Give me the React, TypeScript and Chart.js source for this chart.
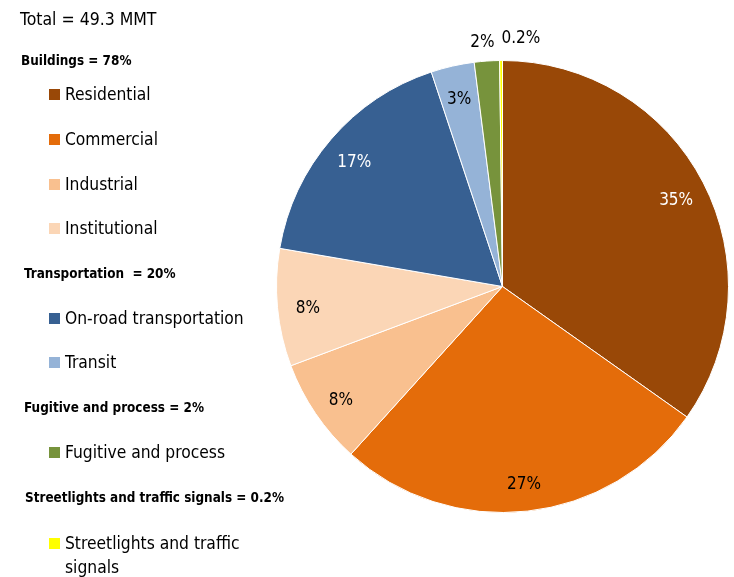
import React, { useEffect, useRef } from "react";
import { Chart, registerables } from "chart.js";

Chart.register(...registerables);

const categories = [
  "Residential",
  "Commercial",
  "Industrial",
  "Institutional",
  "On-road transportation",
  "Transit",
  "Fugitive and process",
  "Streetlights and traffic signals",
];
const shares = [34.8, 26.9, 7.6, 8.4, 17.2, 3.1, 1.8, 0.2];
const shareLabels = ["35%", "27%", "8%", "8%", "17%", "3%", "2%", "0.2%"];
const colors = ["#994807", "#E46C0A", "#F9C08F", "#FBD6B6", "#376092", "#95B3D7", "#77933C", "#FFFF00"];
const labelColors = ["#FFFFFF", "#000000", "#000000", "#000000", "#FFFFFF", "#000000", "#000000", "#000000"];

const totalText = "Total = 49.3 MMT";
const groups = [
  { title: "Buildings = 78%", items: [0, 1, 2, 3] },
  { title: "Transportation  = 20%", items: [4, 5] },
  { title: "Fugitive and process = 2%", items: [6] },
  { title: "Streetlights and traffic signals = 0.2%", items: [7] },
];
const legendItemText = [
  "Residential",
  "Commercial",
  "Industrial",
  "Institutional",
  "On-road transportation",
  "Transit",
  "Fugitive and process",
  "Streetlights and traffic signals",
];

const FONT = '"Liberation Sans Narrow", "DejaVu Sans Condensed", "Roboto", sans-serif';

const sliceLabelPlugin = {
  id: "sliceLabels",
  afterDatasetsDraw(chart: any) {
    const ctx = chart.ctx;
    const meta = chart.getDatasetMeta(0);
    ctx.save();
    ctx.font = `17px ${FONT}`;
    ctx.textAlign = "center";
    ctx.textBaseline = "middle";
    meta.data.forEach((arc: any, i: number) => {
      const p = arc.getProps(["x", "y", "startAngle", "endAngle", "outerRadius"], true);
      const mid = (p.startAngle + p.endAngle) / 2;
      const small = shares[i] < 2.5;
      const r = small ? p.outerRadius + 22 : p.outerRadius * 0.865;
      let x = p.x + Math.cos(mid) * r;
      let y = p.y + Math.sin(mid) * r;
      if (!small) y += 4;
      if (small && i === shares.length - 1) x += 20;
      if (small && i === shares.length - 2) {
        x -= 3;
        y += 3;
      }
      ctx.fillStyle = labelColors[i];
      ctx.fillText(shareLabels[i], x, y);
    });
    ctx.restore();
  },
};

export default function App() {
  const canvasRef = useRef<HTMLCanvasElement | null>(null);

  useEffect(() => {
    if (!canvasRef.current) return;
    const chart = new Chart(canvasRef.current, {
      type: "pie",
      data: {
        labels: categories,
        datasets: [
          {
            data: shares,
            backgroundColor: colors,
            borderColor: "#FFFFFF",
            borderWidth: 1,
          },
        ],
      },
      options: {
        animation: false,
        responsive: false,
        layout: { padding: { left: 276, right: 5, top: 60, bottom: 64 } },
        plugins: {
          legend: { display: false },
          tooltip: { enabled: false },
        },
      },
      plugins: [sliceLabelPlugin],
    });
    return () => chart.destroy();
  }, []);

  const itemY = [94, 139, 184, 228, 318, 362, 452, 543];
  const headY = [60, 273, 407, 497];
  const headX = [21, 24, 24, 25];

  return (
    <div style={{ position: "fixed", left: 0, top: 0, width: 734, height: 577, background: "#fff", fontFamily: FONT, color: "#000" }}>
      <canvas ref={canvasRef} width={734} height={577} style={{ position: "absolute", left: 0, top: 0 }} />
      <div
        style={{
          position: "absolute",
          left: 20,
          top: 19,
          transform: "translateY(-50%)",
          fontSize: 17.5,
          whiteSpace: "nowrap",
        }}
      >
        {totalText}
      </div>
      {groups.map((g, gi) => (
        <React.Fragment key={gi}>
          <div
            style={{
              position: "absolute",
              left: headX[gi],
              top: headY[gi],
              transform: "translateY(-50%)",
              fontSize: 13.4,
              fontWeight: "bold",
              whiteSpace: "pre",
            }}
          >
            {g.title}
          </div>
          {g.items.map((idx) => (
            <div
              key={idx}
              style={{
                position: "absolute",
                left: 49,
                top: itemY[idx] - 10,
                display: "flex",
                alignItems: "flex-start",
                width: 210,
              }}
            >
              <div style={{ width: 11, height: 11, background: colors[idx], marginTop: 5, marginRight: 5, flex: "0 0 auto" }} />
              <div style={{ fontSize: 17.3, lineHeight: "24px", marginTop: -2 }}>{legendItemText[idx]}</div>
            </div>
          ))}
        </React.Fragment>
      ))}
    </div>
  );
}
